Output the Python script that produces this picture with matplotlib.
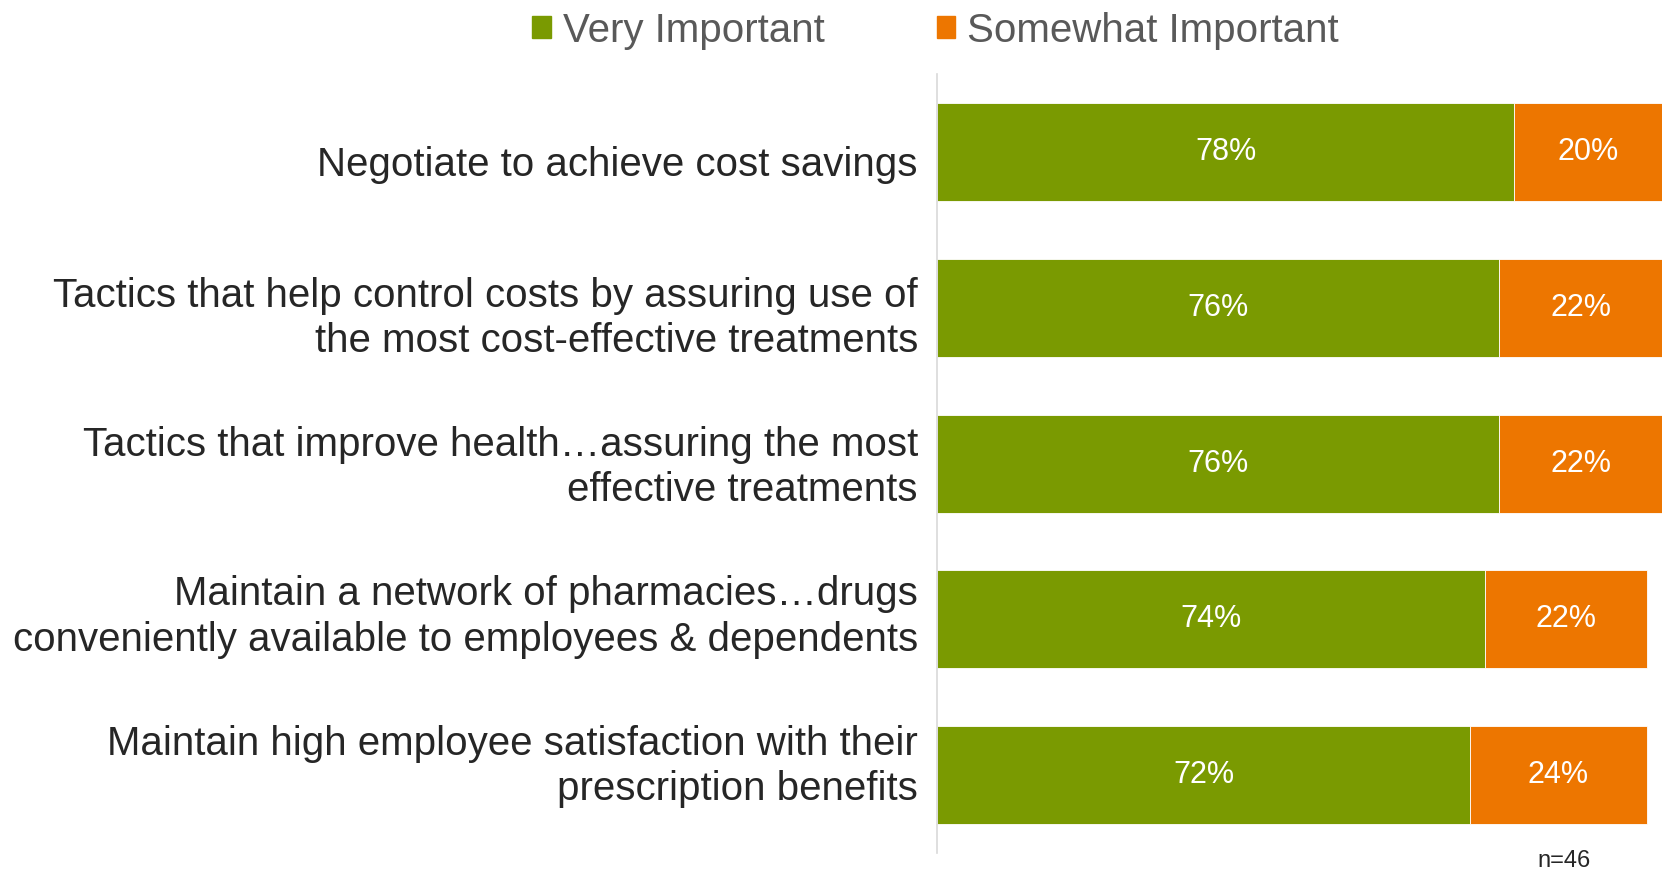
import matplotlib.pyplot as plt
from matplotlib.patches import Rectangle
from matplotlib.transforms import ScaledTranslation

plt.rcParams['font.family'] = ['Liberation Sans', 'DejaVu Sans']

# data
categories = [
    'Negotiate to achieve cost savings',
    'Tactics that help control costs by assuring use of\nthe most cost-effective treatments',
    'Tactics that improve health\u2026assuring the most\neffective treatments',
    'Maintain a network of pharmacies\u2026drugs\nconveniently available to employees & dependents',
    'Maintain high employee satisfaction with their\nprescription benefits',
]
very_important = [78, 76, 76, 74, 72]
somewhat_important = [20, 22, 22, 22, 24]
series_names = ['Very Important', 'Somewhat Important']
sample_note = 'n=46'

green = '#7A9A01'
orange = '#ED7600'

fig = plt.figure(figsize=(16.62, 8.73), dpi=100, facecolor='white')
ax = fig.add_axes([0.564, 0.023, 0.436, 0.892])

y = list(range(len(categories)))
b1 = ax.barh(y, very_important, height=0.63, color=green, edgecolor='white', linewidth=0.6)
b2 = ax.barh(y, somewhat_important, left=very_important, height=0.63, color=orange,
             edgecolor='white', linewidth=0.6)

for vals, lefts in [(very_important, [0] * 5), (somewhat_important, very_important)]:
    for yi, v, l in zip(y, vals, lefts):
        ax.text(l + v / 2, yi, f'{v}%', ha='center', va='center', color='white', fontsize=22)

ax.set_xlim(0, 98)
ax.set_ylim(len(categories) - 0.5, -0.5)
ax.set_yticks(y)
ax.set_yticklabels(categories, fontsize=29, color='#262626', ha='right', multialignment='right',
                   linespacing=1.25)
ax.tick_params(axis='y', length=0, pad=14)
# category labels in the original sit a bit tighter together than the bars
for i, lbl in enumerate(ax.get_yticklabels()):
    dy = (3.7 + 6.4 * (i - 2)) / 100
    lbl.set_transform(lbl.get_transform() + ScaledTranslation(0, dy, fig.dpi_scale_trans))
ax.set_xticks([])
for s in ['top', 'right', 'bottom']:
    ax.spines[s].set_visible(False)
ax.spines['left'].set_color('#D9D9D9')
ax.spines['left'].set_linewidth(1.2)

handles = [Rectangle((0, 0), 1, 1, color=green), Rectangle((0, 0), 1, 1, color=orange)]
fig.legend(handles, series_names, loc='center', bbox_to_anchor=(0.563, 0.965), ncol=2,
           frameon=False, fontsize=29, labelcolor='#595959', handlelength=0.45,
           handleheight=0.45, handletextpad=0.3, columnspacing=2.8)

fig.text(0.941, 0.014, sample_note, ha='center', va='center', fontsize=17, color='#262626')

fig.savefig('out.png', dpi=100, facecolor='white')
